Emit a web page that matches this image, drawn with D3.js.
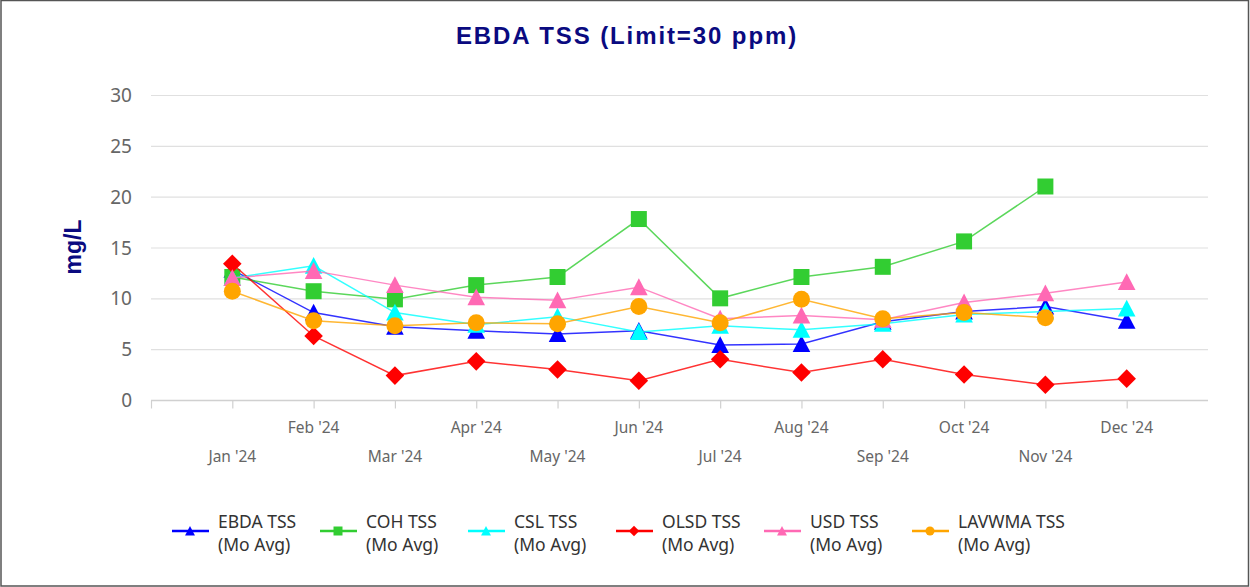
<!DOCTYPE html>
<html><head><meta charset="utf-8">
<script src="https://cdn.jsdelivr.net/npm/d3@7"></script>
<style>
html,body{margin:0;padding:0;background:#fff;}
svg{display:block;}
</style></head>
<body>
<svg id="c" width="1250" height="587"></svg>
<script>
const months = ["Jan '24","Feb '24","Mar '24","Apr '24","May '24","Jun '24","Jul '24","Aug '24","Sep '24","Oct '24","Nov '24","Dec '24"];
const yTicks = [0,5,10,15,20,25,30];
const seriesNames = ["EBDA TSS","COH TSS","CSL TSS","OLSD TSS","USD TSS","LAVWMA TSS"];
const seriesColors = ["#0000ff","#32cd32","#00ffff","#ff0000","#ff69b4","#ffa500"];
const seriesSymbols = ["triangle","square","triangle","diamond","triangle","circle"];
const ebda   = [12.8, 8.6, 7.2, 6.8, 6.5, 6.8, 5.4, 5.5, 7.7, 8.7, 9.2, 7.8];
const coh    = [12.1,10.7, 9.9,11.3,12.1,17.8,10.0,12.1,13.1,15.6,21.0,null];
const csl    = [12.0,13.2, 8.6, 7.4, 8.2, 6.7, 7.3, 6.9, 7.5, 8.4, 8.7, 9.0];
const olsd   = [13.4, 6.3, 2.4, 3.8, 3.0, 1.9, 4.0, 2.7, 4.0, 2.5, 1.5, 2.1];
const usd    = [12.0,12.7,11.3,10.1, 9.8,11.1, 8.0, 8.3, 7.9, 9.6,10.5,11.6];
const lavwma = [10.7, 7.8, 7.3, 7.6, 7.5, 9.2, 7.6, 9.9, 8.0, 8.6, 8.1,null];
const seriesData = [ebda, coh, csl, olsd, usd, lavwma];

const svg = d3.select("#c");
svg.append("rect").attr("x",1).attr("y",0.5).attr("width",1247.5).attr("height",585.5)
  .attr("fill","none").attr("stroke","#555").attr("stroke-width",1.5);

const pLeft=151, pRight=1208, pTop=95, pBottom=400;
const x = d3.scaleLinear().domain([-1, 12]).range([pLeft, pRight]);
const y = d3.scaleLinear().domain([0, 30]).range([pBottom, pTop]);

svg.append("text").attr("x",627).attr("y",44).attr("text-anchor","middle")
  .attr("font-family","'Liberation Sans', Arial, sans-serif").attr("font-weight","bold")
  .attr("font-size",24).attr("letter-spacing","1.9px").attr("fill","#0a0a80").text("EBDA TSS (Limit=30 ppm)");

svg.append("text").attr("transform","translate(81,247) rotate(-90)").attr("text-anchor","middle")
  .attr("font-family","'Liberation Sans', Arial, sans-serif").attr("font-weight","bold")
  .attr("font-size",23).attr("fill","#0a0a80").text("mg/L");

const grid = svg.append("g");
grid.selectAll("line").data(yTicks.filter(d=>d>0)).join("line")
  .attr("x1",pLeft).attr("x2",pRight).attr("y1",d=>y(d)+0.5).attr("y2",d=>y(d)+0.5)
  .attr("stroke","#e0e0e0").attr("stroke-width",1.2);

const yAxis = d3.axisLeft(y).tickValues(yTicks).tickSize(0).tickPadding(0);
const yg = svg.append("g").attr("transform",`translate(${pLeft-19},0)`).call(yAxis);
yg.select(".domain").remove();
yg.selectAll("text").attr("font-family","'Noto Sans', 'Open Sans', sans-serif").attr("font-size",19)
  .attr("fill","#666").attr("dy","0.35em");

const xTickVals = d3.range(-1, 12);
const xAxis = d3.axisBottom(x).tickValues(xTickVals).tickSize(8).tickFormat(()=>"");
const xg = svg.append("g").attr("transform",`translate(0,${pBottom+0.5})`).call(xAxis);
xg.select(".domain").attr("stroke","#d0d0d0").attr("stroke-width",1.5).attr("d",`M${pLeft},0H${pRight}`);
xg.selectAll(".tick line").attr("stroke","#d0d0d0").attr("stroke-width",1.2).attr("y2",8);
svg.append("g").selectAll("text").data(months).join("text")
  .attr("x",(d,i)=>x(i)).attr("y",(d,i)=> i%2===0 ? 462 : 433)
  .attr("text-anchor","middle").attr("font-family","'Noto Sans', 'Open Sans', sans-serif")
  .attr("font-size",15.5).attr("fill","#666").text(d=>d);

function symPath(type, s){
  if(type==="triangle") return `M0,${-s*0.55}L${s*0.55},${s*0.5}L${-s*0.55},${s*0.5}Z`;
  if(type==="square") return `M${-s/2},${-s/2}H${s/2}V${s/2}H${-s/2}Z`;
  if(type==="diamond") return `M0,${-s*0.58}L${s*0.58},0L0,${s*0.58}L${-s*0.58},0Z`;
  if(type==="circle"){const r=s/2; return `M${r},0A${r},${r} 0 1,1 ${-r},0A${r},${r} 0 1,1 ${r},0Z`;}
}

const plot = svg.append("g");
seriesData.forEach((data, si)=>{
  const g = plot.append("g");
  const pts = data.map((v,i)=>({v,i})).filter(d=>d.v!=null);
  g.append("path").attr("d", d3.line().x(d=>x(d.i)).y(d=>y(d.v))(pts))
    .attr("fill","none").attr("stroke",seriesColors[si]).attr("stroke-width",1.5).attr("opacity",0.8);
  g.selectAll("path.m").data(pts).join("path").attr("class","m")
    .attr("transform",d=>`translate(${x(d.i)},${y(d.v)})`)
    .attr("d",symPath(seriesSymbols[si], seriesSymbols[si]==="circle"?17:16))
    .attr("fill",seriesColors[si]);
});

const legX = [172, 320, 468, 616, 764, 912];
const leg = svg.append("g");
seriesNames.forEach((n,i)=>{
  const g = leg.append("g").attr("transform",`translate(${legX[i]},0)`);
  g.append("line").attr("x1",0).attr("x2",37).attr("y1",531).attr("y2",531)
    .attr("stroke",seriesColors[i]).attr("stroke-width",2.5);
  g.append("path").attr("transform","translate(18,531)").attr("d",symPath(seriesSymbols[i],9)).attr("fill",seriesColors[i]);
  const t = g.append("text").attr("font-family","'Noto Sans', 'Open Sans', sans-serif")
    .attr("font-size",17.5).attr("fill","#333");
  t.append("tspan").attr("x",46).attr("y",528).text(n);
  t.append("tspan").attr("x",46).attr("y",551).text("(Mo Avg)");
});
</script>
</body></html>
